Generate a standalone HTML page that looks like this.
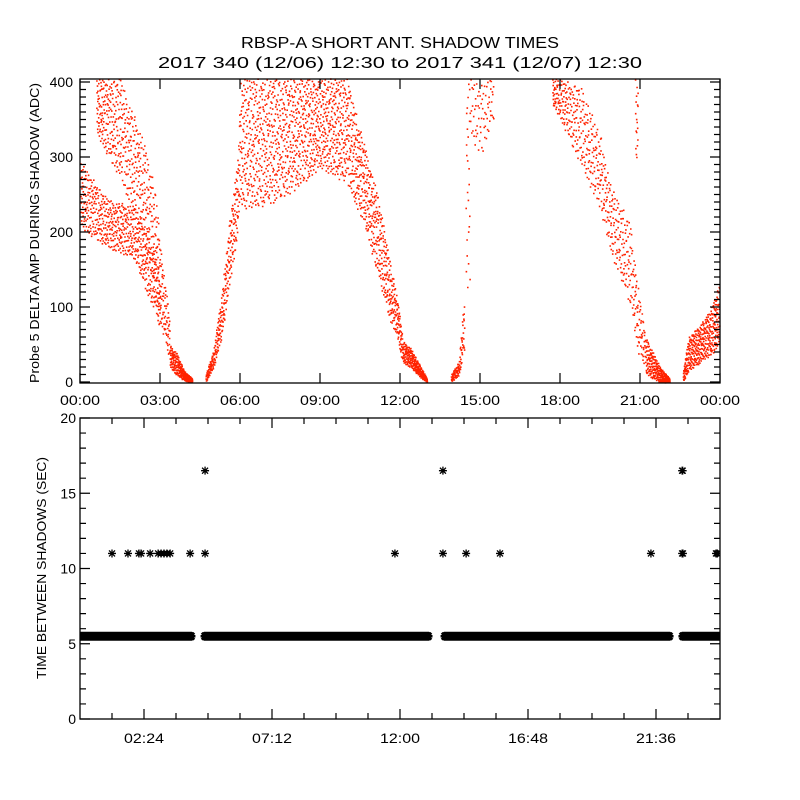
<!DOCTYPE html>
<html><head><meta charset="utf-8"><style>
html,body{margin:0;padding:0;background:#fff;}
svg{display:block;font-family:"Liberation Sans",sans-serif;}
</style></head><body>
<svg id="chart" width="800" height="800" viewBox="0 0 800 800" xmlns="http://www.w3.org/2000/svg">
<defs><clipPath id="botclip"><rect x="80" y="418" width="640" height="301"/></clipPath></defs>
<rect width="800" height="800" fill="#fff"/>
<text x="400" y="48" text-anchor="middle" font-size="16" textLength="318" lengthAdjust="spacingAndGlyphs">RBSP-A SHORT ANT. SHADOW TIMES</text>
<text x="400" y="68" text-anchor="middle" font-size="16" textLength="484" lengthAdjust="spacingAndGlyphs">2017 340 (12/06) 12:30 to 2017 341 (12/07) 12:30</text>
<text transform="translate(39,233) rotate(-90)" text-anchor="middle" font-size="13" textLength="300" lengthAdjust="spacingAndGlyphs">Probe 5 DELTA AMP DURING SHADOW (ADC)</text>
<text transform="translate(46,568) rotate(-90)" text-anchor="middle" font-size="13" textLength="222" lengthAdjust="spacingAndGlyphs">TIME BETWEEN SHADOWS (SEC)</text>
<g id="top-plot"></g>
<g id="bottom-plot"></g>
</svg>
<script>
// ---- top chart data (envelopes of shadow amplitude swaths, hours / ADC) ----
const swA_h=[0,1,2,2.7,3.0], swA_lo=[205,180,165,100,70], swA_hi=[295,245,235,180,140];
const swB_h=[0.6,1.5,2.3,2.8,3.1,3.35], swB_lo=[330,270,200,120,60,30], swB_hi=[405,405,330,260,150,90];
const swC_h=[3.35,3.6,3.9,4.2], swC_lo=[20,10,2,0], swC_hi=[50,40,15,5];
const swD_h=[4.7,5.0,5.3,5.6,5.9,6.0], swD_lo=[0,20,60,130,200,250], swD_hi=[10,45,120,220,300,405];
const swE_h=[6.0,7.0,8.0,9.0,10.0,10.7,11.2,11.6,11.9,12.1], swE_lo=[230,235,255,285,265,203,136,83,56,23], swE_hi=[405,405,405,405,405,310,243,163,109,56];
const swF_h=[12.1,12.4,12.7,13.0], swF_lo=[25,20,8,0], swF_hi=[55,45,25,5];
const swG_h=[13.9,14.2,14.4], swG_lo=[0,10,40], swG_hi=[10,30,120];
const swH_h=[14.45,14.6], swH_lo=[120,120], swH_hi=[405,405];
const swI_h=[14.6,15.0,15.5], swI_lo=[330,300,350], swI_hi=[405,405,405];
const swJ_h=[17.7,18,18.75,19.5,19.9,20.6,20.9,21.2], swJ_lo=[370,350,290,230,170,105,40,20], swJ_hi=[405,405,395,330,260,216,130,60];
const swK_h=[21.2,21.75,22.1], swK_lo=[10,0,0], swK_hi=[60,20,5];
const swL_h=[20.8,20.9], swL_lo=[300,300], swL_hi=[405,405];
const swM_h=[22.6,22.8,23.2,23.6,24], swM_lo=[0,15,25,35,50], swM_hi=[15,60,75,95,135];
const swCounts=[550,550,240,300,1500,240,90,25,70,520,240,18,420];
const topYTicks=[0,100,200,300,400];
const topXTicks=["00:00","03:00","06:00","09:00","12:00","15:00","18:00","21:00","00:00"];
// ---- bottom chart data ----
const bandStart=[0,4.69,13.69,22.61];
const bandEnd=[4.16,13.05,22.09,24];
const bandValue=[5.5,5.5,5.5,5.5];
const outH=[1.2,1.8,2.21,2.29,2.63,2.93,3.04,3.15,3.26,3.38,4.13,4.69,11.81,13.61,14.48,15.75,21.41,22.58,22.61,23.85,23.9,4.69,13.61,22.58,22.6];
const outV=[11,11,11,11,11,11,11,11,11,11,11,11,11,11,11,11,11,11,11,11,11,16.5,16.5,16.5,16.5];
const botYTicks=[0,5,10,15,20];
const botXTicks=["02:24","07:12","12:00","16:48","21:36"];

const NS="http://www.w3.org/2000/svg";
const xT=h=>80+h*640/24;
const yT=v=>382-0.75*v;
const xB=h=>80+h*640/24;
const yB=v=>719-15.05*v;
function mk(tag,parent,attrs){const e=document.createElementNS(NS,tag);for(const k in attrs)e.setAttribute(k,attrs[k]);parent.appendChild(e);return e;}
function interp(xs,ys,x){if(x<=xs[0])return ys[0];for(let i=1;i<xs.length;i++){if(x<=xs[i]){const t=(x-xs[i-1])/(xs[i]-xs[i-1]);return ys[i-1]+t*(ys[i]-ys[i-1]);}}return ys[ys.length-1];}
function halton(i,b){let f=1,r=0;while(i>0){f/=b;r+=f*(i%b);i=Math.floor(i/b);}return r;}

const topG=document.getElementById('top-plot');
const botG=document.getElementById('bottom-plot');

// top scatter
const swaths=[[swA_h,swA_lo,swA_hi],[swB_h,swB_lo,swB_hi],[swC_h,swC_lo,swC_hi],[swD_h,swD_lo,swD_hi],[swE_h,swE_lo,swE_hi],[swF_h,swF_lo,swF_hi],[swG_h,swG_lo,swG_hi],[swH_h,swH_lo,swH_hi],[swI_h,swI_lo,swI_hi],[swJ_h,swJ_lo,swJ_hi],[swK_h,swK_lo,swK_hi],[swL_h,swL_lo,swL_hi],[swM_h,swM_lo,swM_hi]];
swaths.forEach((s,si)=>{
  const hs=s[0],lo=s[1],hi=s[2];const n=swCounts[si];let d="";
  for(let i=1;i<=n;i++){
    const h=hs[0]+(hs[hs.length-1]-hs[0])*halton(i+si*7,2);
    const f=halton(i+si*7,3);
    const l=interp(hs,lo,h);
    let v=l+(interp(hs,hi,h)-l)*f;
    if(v>405)v=405;
    const x=xT(h),y=yT(v);
    if(x<80||x>719)continue;
    d+="M"+x.toFixed(1)+" "+y.toFixed(1)+"h1.6v1.6h-1.6z";
  }
  const p=mk('path',topG,{d:d,fill:'#ff2200'});
  
  
});

// top frame and ticks
const tf=mk('rect',topG,{x:80,y:79,width:640,height:304,fill:'none',stroke:'#000','stroke-width':1.3});


let td="";
for(let v=0;v<=400;v+=10){const y=yT(v);const L=(v%100===0)?10:6;td+=`M80 ${y}h${L}M720 ${y}h${-L}`;}
for(let i=0;i<=8;i++){const x=xT(i*3);td+=`M${x} 383v-10M${x} 79v10`;}
const tt=mk('path',topG,{d:td,stroke:'#000','stroke-width':1.2,fill:'none'});


topYTicks.forEach(v=>{const t=mk('text',topG,{x:73,y:yT(v)+5,'text-anchor':'end','font-size':14});t.textContent=String(v);
  
  });
topXTicks.forEach((s,i)=>{const t=mk('text',topG,{x:xT(i*3),y:405,'text-anchor':'middle','font-size':14,textLength:40,lengthAdjust:'spacingAndGlyphs'});t.textContent=s;
  
  });

// bottom asterisks
function star(x,y,r){return `M${x-r} ${y}h${2*r}M${x} ${y-r}v${2*r}M${x-r*0.75} ${y-r*0.75}l${1.5*r} ${1.5*r}M${x-r*0.75} ${y+r*0.75}l${1.5*r} ${-1.5*r}`;}
let bd="";
bandStart.forEach((s,i)=>{for(let h=s;h<=bandEnd[i]+1e-9;h+=0.02){bd+=star(xB(h),yB(bandValue[i]),4.5);}});
const bp=mk('path',botG,{d:bd,stroke:'#000','stroke-width':2.5,fill:'none','clip-path':'url(#botclip)'});


let od="";
outH.forEach((h,i)=>{od+=star(xB(h),yB(outV[i]),4);});
const op=mk('path',botG,{d:od,stroke:'#000','stroke-width':1.3,fill:'none','clip-path':'url(#botclip)'});



// bottom frame and ticks
const bf=mk('rect',botG,{x:80,y:418,width:640,height:301,fill:'none',stroke:'#000','stroke-width':1.3});


let bt="";
for(let v=0;v<=20;v++){const y=yB(v);const L=(v%5===0)?10:6;bt+=`M80 ${y}h${L}M720 ${y}h${-L}`;}
for(let i=1;i<20;i++){const x=xB(i*1.2);const L=(i%4===2)?10:6;bt+=`M${x} 719v${-L}M${x} 418v${L}`;}
const btp=mk('path',botG,{d:bt,stroke:'#000','stroke-width':1.2,fill:'none'});


botYTicks.forEach(v=>{const t=mk('text',botG,{x:76,y:yB(v)+5,'text-anchor':'end','font-size':14});t.textContent=String(v);
  
  });
botXTicks.forEach((s,i)=>{const t=mk('text',botG,{x:xB(2.4+i*4.8),y:743,'text-anchor':'middle','font-size':14,textLength:40,lengthAdjust:'spacingAndGlyphs'});t.textContent=s;
  
  });
</script>
</body></html>
